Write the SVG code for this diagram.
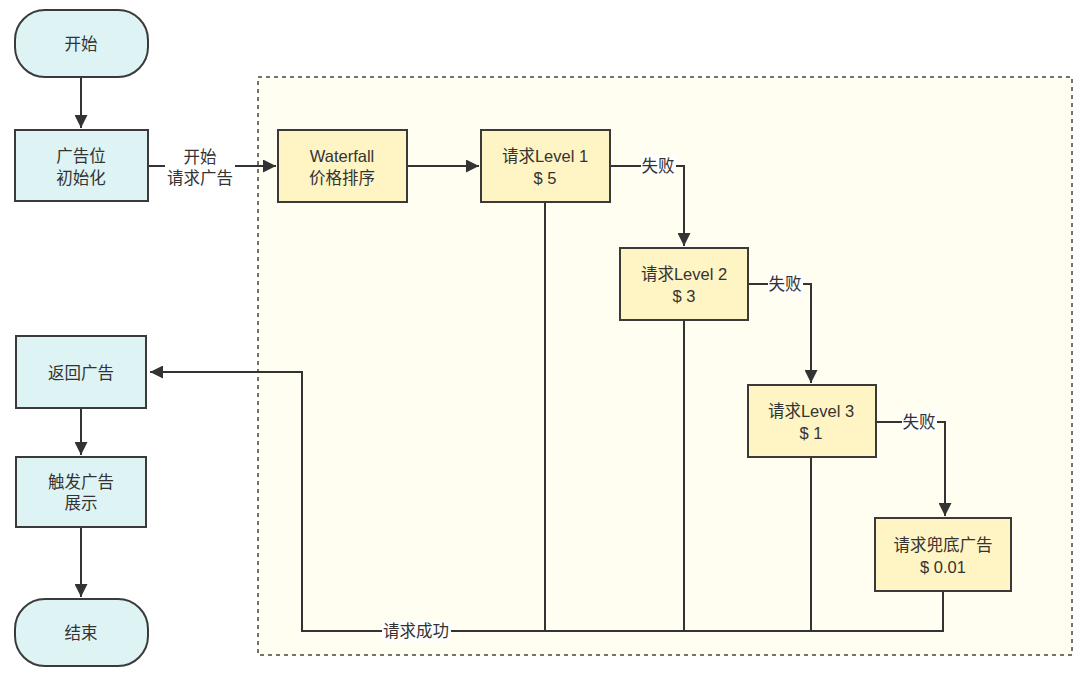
<svg xmlns="http://www.w3.org/2000/svg" width="1080" height="678" viewBox="0 0 1080 678">
<defs>
<style>
.t{font-family:"Liberation Sans","Noto Sans CJK SC",sans-serif;font-size:16.5px;fill:#333;text-anchor:middle;dominant-baseline:central}
.c{fill:#def3f4;stroke:#3a3a3a;stroke-width:2}
.y{fill:#fff4c3;stroke:#3a3a3a;stroke-width:2}
.e{fill:none;stroke:#333;stroke-width:2}
.lb{fill:#ffffff}
</style>
<marker id="a" viewBox="0 0 10 10" refX="10" refY="5" markerWidth="6.5" markerHeight="6.5" orient="auto" markerUnits="strokeWidth">
<path d="M0,0 L10,5 L0,10 z" fill="#333"/>
</marker>
</defs>
<rect width="1080" height="678" fill="#fff"/>
<g id="container">
<rect x="258" y="77" width="814" height="578" fill="#fffef0" stroke="#444" stroke-width="1.5" stroke-dasharray="4,4"/>
</g>
<g id="connectors">
<path class="e" d="M81,77 V128" marker-end="url(#a)"/>
<path class="e" d="M148,166 H240 V166 H276" marker-end="url(#a)"/>
<path class="e" d="M407,166 H479" marker-end="url(#a)"/>
<path class="e" d="M610,166 H684 V246" marker-end="url(#a)"/>
<path class="e" d="M748,284 H811 V383" marker-end="url(#a)"/>
<path class="e" d="M876,422 H945 V516" marker-end="url(#a)"/>
<path class="e" d="M545,202 V631 M684,320 V631 M811,457 V631 M943,591 V631 H302 V372 H150" marker-end="url(#a)"/>
<path class="e" d="M81,408 V455" marker-end="url(#a)"/>
<path class="e" d="M81,527 V597" marker-end="url(#a)"/>
<rect x="165" y="147" width="70" height="40" fill="#fff"/>
<text class="t" x="200" y="157">开始</text>
<text class="t" x="200" y="178">请求广告</text>
<rect x="641" y="156" width="35" height="20" class="lb"/>
<text class="t" x="658" y="166">失败</text>
<rect x="768" y="274" width="35" height="20" class="lb"/>
<text class="t" x="785" y="284">失败</text>
<rect x="902" y="412" width="35" height="20" class="lb"/>
<text class="t" x="919" y="422">失败</text>
<rect x="382" y="621" width="69" height="20" class="lb"/>
<text class="t" x="416" y="631">请求成功</text>
</g>
<g id="start">
<rect class="c" x="15" y="10" width="133" height="67" rx="30" ry="30"/>
<text class="t" x="81" y="44">开始</text>
</g>
<g id="init">
<rect class="c" x="15" y="130" width="133" height="71"/>
<text class="t" x="81" y="156">广告位</text>
<text class="t" x="81" y="178">初始化</text>
</g>
<g id="waterfall">
<rect class="y" x="278" y="130" width="129" height="72"/>
<text class="t" x="342" y="156">Waterfall</text>
<text class="t" x="342" y="178">价格排序</text>
</g>
<g id="level1">
<rect class="y" x="481" y="130" width="129" height="72"/>
<text class="t" x="545" y="156">请求Level 1</text>
<text class="t" x="545" y="178">$ 5</text>
</g>
<g id="level2">
<rect class="y" x="620" y="248" width="128" height="72"/>
<text class="t" x="684" y="274">请求Level 2</text>
<text class="t" x="684" y="296">$ 3</text>
</g>
<g id="level3">
<rect class="y" x="748" y="385" width="128" height="72"/>
<text class="t" x="811" y="411">请求Level 3</text>
<text class="t" x="811" y="433">$ 1</text>
</g>
<g id="fallback">
<rect class="y" x="875" y="518" width="136" height="73"/>
<text class="t" x="943" y="545">请求兜底广告</text>
<text class="t" x="943" y="567">$ 0.01</text>
</g>
<g id="return">
<rect class="c" x="16" y="336" width="130" height="72"/>
<text class="t" x="81" y="373">返回广告</text>
</g>
<g id="show">
<rect class="c" x="16" y="457" width="130" height="70"/>
<text class="t" x="81" y="482">触发广告</text>
<text class="t" x="81" y="503">展示</text>
</g>
<g id="end">
<rect class="c" x="15" y="599" width="133" height="67" rx="30" ry="30"/>
<text class="t" x="81" y="633">结束</text>
</g>
</svg>
